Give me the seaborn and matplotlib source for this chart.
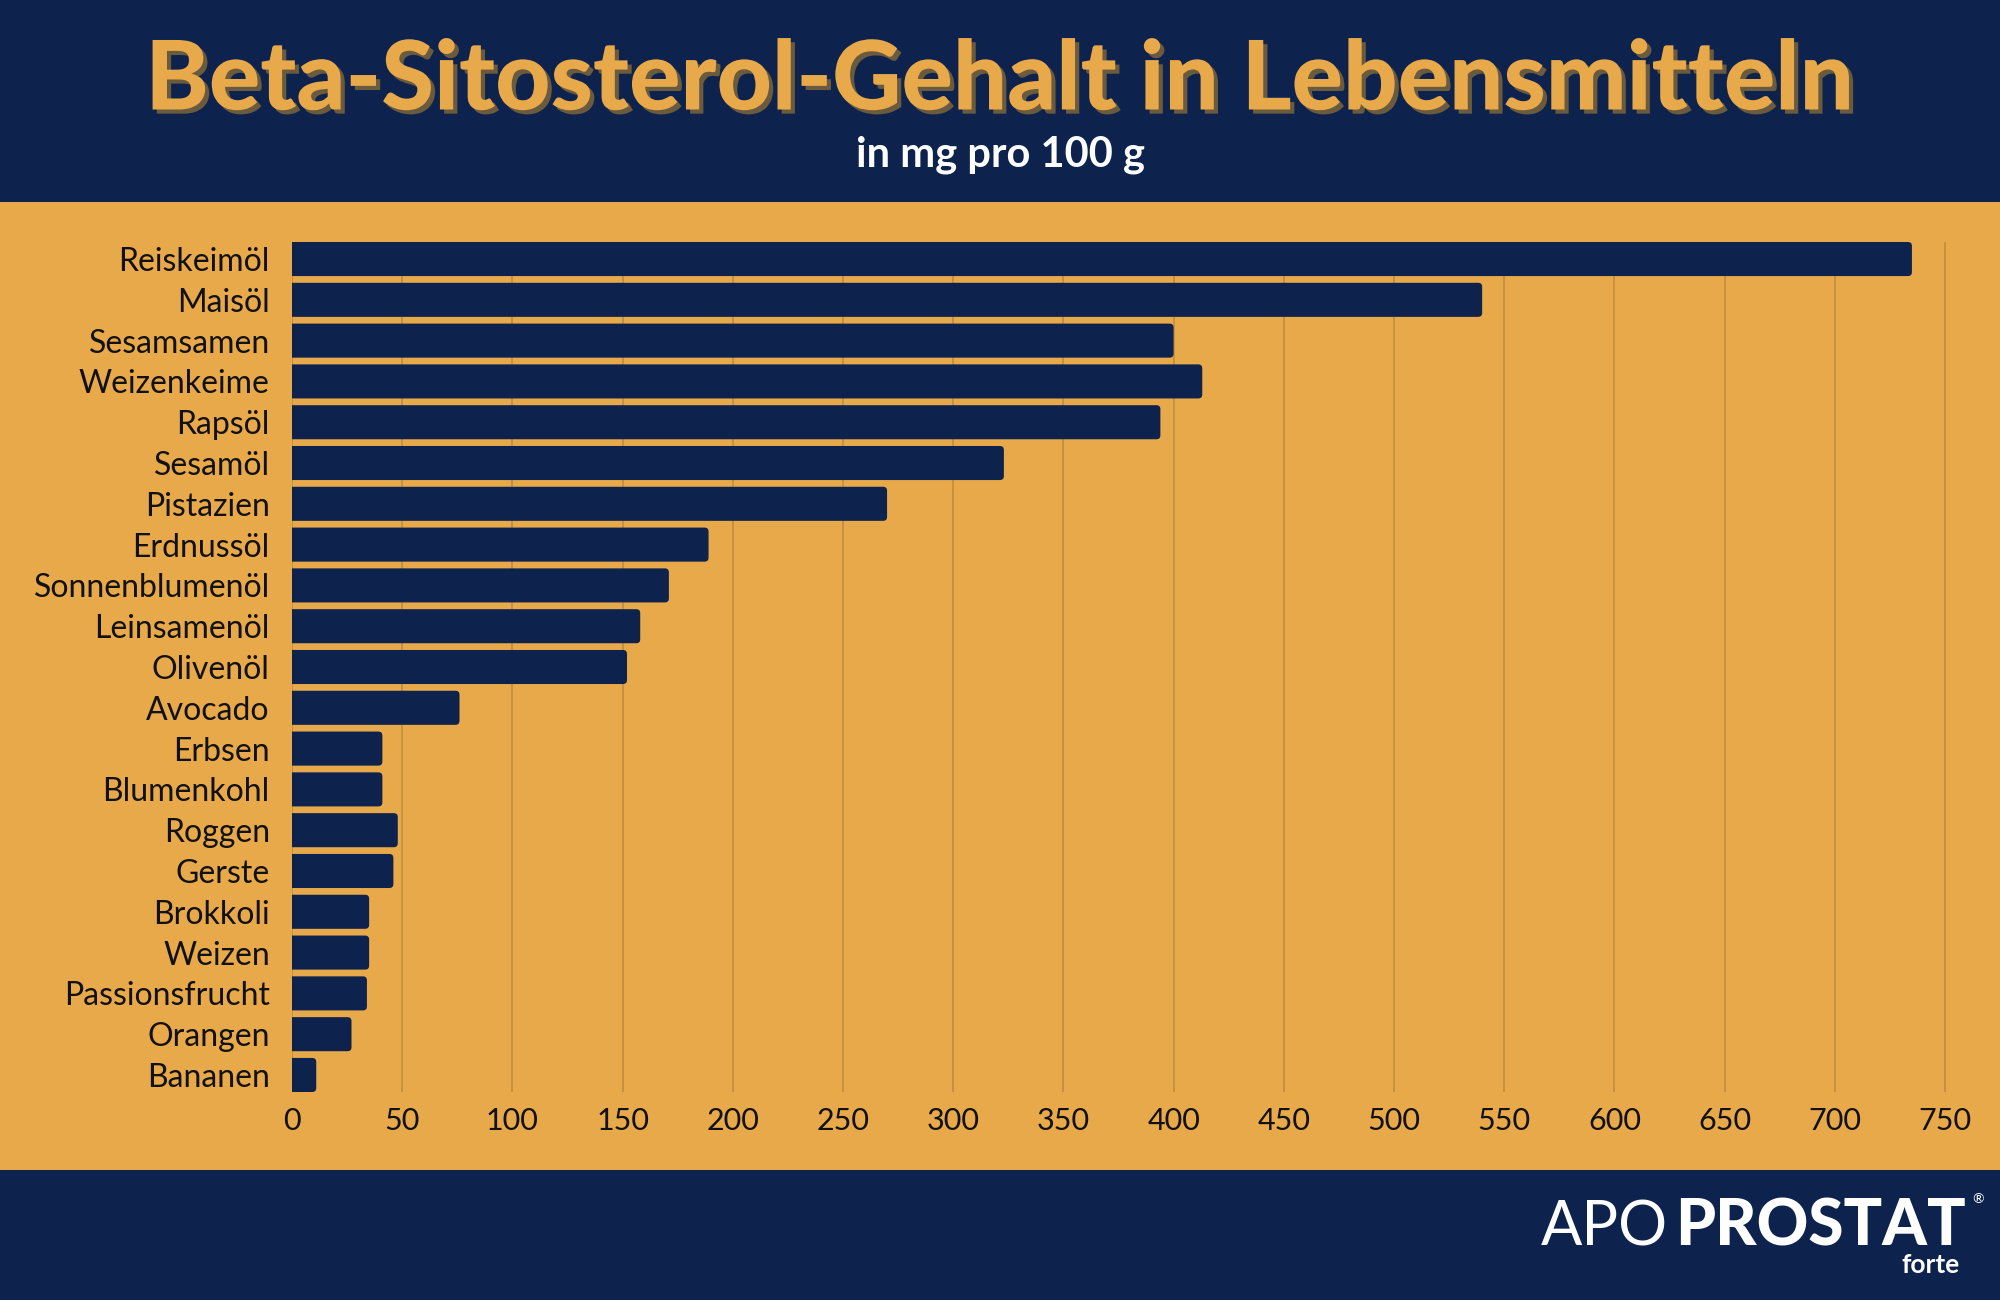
import matplotlib
matplotlib.use("Agg")
import matplotlib.pyplot as plt
import matplotlib.patheffects as pe
from matplotlib.patches import Rectangle, FancyBboxPatch
import seaborn as sns
import pandas as pd

# ---------------- data ----------------
foods = ["Reiskeimöl", "Maisöl", "Sesamsamen", "Weizenkeime", "Rapsöl", "Sesamöl",
         "Pistazien", "Erdnussöl", "Sonnenblumenöl", "Leinsamenöl", "Olivenöl",
         "Avocado", "Erbsen", "Blumenkohl", "Roggen", "Gerste", "Brokkoli",
         "Weizen", "Passionsfrucht", "Orangen", "Bananen"]
values = [735, 540, 400, 413, 394, 323, 270, 189, 171, 158, 152,
          76, 41, 41, 48, 46, 35, 35, 34, 27, 11]
xticks = list(range(0, 751, 50))

title = "Beta-Sitosterol-Gehalt in Lebensmitteln"
subtitle = "in mg pro 100 g"

NAVY = "#0D234E"
ORANGE = "#E8A94A"
GRID = "#C48F3C"
SHADOW = "#6A5A3E"

sns.set_theme(style="white")
plt.rcParams["font.family"] = ["Lato", "DejaVu Sans"]

fig = plt.figure(figsize=(20, 13), dpi=100)
fig.patch.set_facecolor(NAVY)
# orange band
fig.patches.append(Rectangle((0, 1 - 1170 / 1300), 1, (1170 - 202) / 1300,
                             transform=fig.transFigure, facecolor=ORANGE,
                             edgecolor="none", zorder=-5))

ax_left = 292 / 2000
ax_bottom = 1 - 1092 / 1300
ax_top = 1 - 242 / 1300
xmax = 762
ax_w = xmax * (1945 - 292) / 750 / 2000
ax = fig.add_axes([ax_left, ax_bottom, ax_w, ax_top - ax_bottom])
ax.set_facecolor("none")
ax.set_zorder(2)

df = pd.DataFrame({"food": foods, "value": values})
sns.barplot(data=df, x="value", y="food", color=NAVY, width=0.835,
            orient="h", ax=ax, saturation=1, zorder=3)

# rounded right corners
px_x = (1945 - 292) / 750.0      # px per x unit
px_y = (1092 - 242) / (20 + 0.835)  # px per y unit
r_px = 4.0
r = r_px / px_x
asp = (r_px / px_y) / r
for p in list(ax.patches):
    x0, y0, w, h = p.get_x(), p.get_y(), p.get_width(), p.get_height()
    fb = FancyBboxPatch((x0 - 10, y0), w + 10, h,
                        boxstyle=f"round,pad=0,rounding_size={r}",
                        mutation_aspect=asp, facecolor=NAVY, edgecolor="none",
                        zorder=3)
    p.remove()
    ax.add_patch(fb)

ax.set_xlim(0, xmax)
ax.set_ylim(20 + 0.835 / 2, -0.835 / 2)
ax.set_xticks(xticks)
ax.set_xticklabels([str(t) for t in xticks])
ax.set_xlabel("")
ax.set_ylabel("")
for s in ax.spines.values():
    s.set_visible(False)
ax.grid(False)
for t in xticks:
    ax.axvline(t, color=GRID, lw=1.3, zorder=1)
ax.tick_params(axis="y", length=0, pad=16, labelsize=23, labelcolor="#111111")
ax.tick_params(axis="x", length=0, pad=11, labelsize=22, labelcolor="#111111")

# title with shadow
fig.text(0.5, 1 - 82 / 1300, title, ha="center", va="center",
         fontsize=69, fontweight="black", color=ORANGE,
         path_effects=[pe.SimplePatchShadow(offset=(3, -3), shadow_rgbFace=SHADOW, alpha=1),
                       pe.Normal()])
fig.text(0.5, 1 - 155 / 1300, subtitle, ha="center", va="center",
         fontsize=30, fontweight="bold", color="white")

# logo
fig.text(1668 / 2000, 1 - 1245 / 1300, "APO", ha="right", va="baseline",
         fontsize=44, fontweight="normal", color="white")
fig.text(1966 / 2000, 1 - 1245 / 1300, "PROSTAT", ha="right", va="baseline",
         fontsize=46, fontweight="black", color="white")
fig.text(1972 / 2000, 1 - 1203 / 1300, "®", ha="left", va="baseline",
         fontsize=10, color="white")
fig.text(1960 / 2000, 1 - 1273 / 1300, "forte", ha="right", va="baseline",
         fontsize=19, fontweight="bold", color="white")

fig.savefig("out.png", dpi=100, facecolor=NAVY)
